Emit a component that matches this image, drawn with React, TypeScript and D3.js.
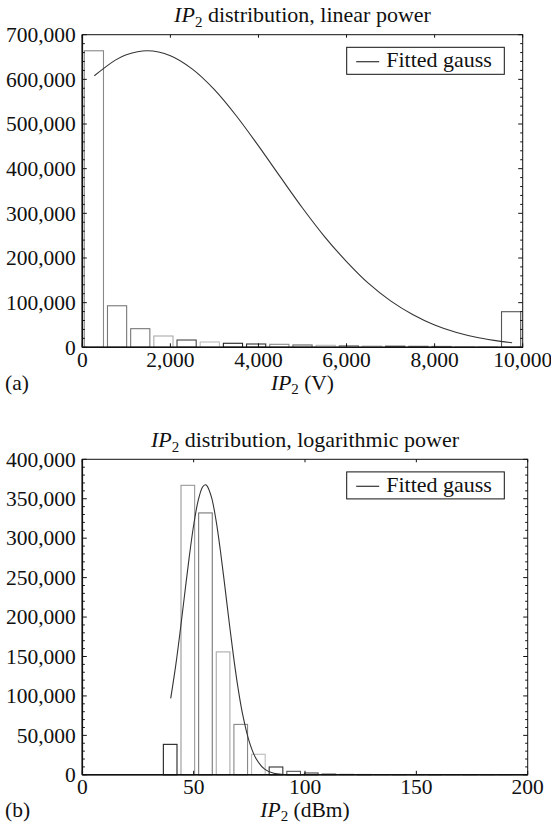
import React, { useEffect, useRef } from 'react';
import * as d3 from 'd3';

// (a) linear power: 19 equal bins over 0..10,000 V
const linBinStart = 0;
const linBinWidth = 10000 / 19;
const linCounts = [664000, 93000, 41700, 25300, 16300, 11900, 9000, 7400, 6700, 5200, 4500, 3600, 2900, 2600, 2300, 2000, 1800, 1600, 79700];
const linStrokes = ['#888', '#777', '#777', '#aaa', '#444', '#bbb', '#222', '#333', '#888', '#666', '#bbb', '#888', '#bbb', '#555', '#777', '#888', '#ccc', '#ccc', '#555'];
const linFitX = [273, 750, 1000, 1477, 2000, 2500, 3000, 3500, 4000, 4500, 5000, 5500, 6000, 6500, 7000, 7500, 8000, 8500, 9000, 9500, 9760];
const linFitY = [608000, 643000, 655000, 664000, 653000, 623000, 577000, 518000, 451000, 381000, 312000, 248000, 192000, 143000, 104000, 73500, 50000, 33100, 21300, 13300, 10300];
const linXTicks = [0, 2000, 4000, 6000, 8000, 10000];
const linYTicks = [0, 100000, 200000, 300000, 400000, 500000, 600000, 700000];

// (b) logarithmic power: 20 bins starting at 35.5 dBm
const logBinStart = 35.5;
const logBinWidth = 7.92;
const logCounts = [38600, 367000, 332000, 155800, 63900, 26000, 9900, 4400, 2300, 1200, 700, 400, 300, 200, 150, 100, 80, 60, 40, 30];
const logStrokes = ['#222', '#999', '#777', '#aaa', '#888', '#bbb', '#333', '#555', '#444', '#888', '#aaa', '#666', '#bbb', '#888', '#aaa', '#777', '#bbb', '#999', '#aaa', '#bbb'];
const logFitX = [39.7, 42, 44, 46, 48, 50, 52, 54, 55.2, 56, 58, 60, 62, 64, 66, 68, 70, 72, 75, 78, 82, 86, 90, 100];
const logFitY = [96800, 139700, 183200, 229800, 275700, 316400, 347400, 364800, 367700, 366400, 352000, 323500, 284400, 239200, 192400, 148000, 108800, 76600, 41700, 20600, 6800, 1900, 440, 0];
const logXTicks = [0, 50, 100, 150, 200];
const logYTicks = [0, 50000, 100000, 150000, 200000, 250000, 300000, 350000, 400000];

const FONT = '"Liberation Serif", "DejaVu Serif", serif';

const drawPanel = (svg, p) => {
    const x = d3.scaleLinear().domain(p.xDomain).range([p.left, p.right]);
    const y = d3.scaleLinear().domain(p.yDomain).range([p.bottom, p.top]);
    const g = svg.append('g');

    // Title with italic IP and subscript 2
    const title = g.append('text')
        .attr('x', (p.left + p.right) / 2)
        .attr('y', p.top - 12.5)
        .attr('text-anchor', 'middle')
        .style('font-family', FONT)
        .style('font-size', '22px')
        .style('fill', '#111');
    title.append('tspan').style('font-style', 'italic').text('IP');
    title.append('tspan').attr('dy', 5).style('font-size', '15px').text('2');
    title.append('tspan').attr('dy', -5).text(p.title);

    // Histogram bars
    const pad = 2;
    p.counts.forEach((c, i) => {
        const x0 = x(p.binStart + i * p.binWidth) + pad;
        const x1 = x(p.binStart + (i + 1) * p.binWidth) - pad;
        g.append('rect')
            .attr('x', x0)
            .attr('y', y(c))
            .attr('width', x1 - x0)
            .attr('height', y(0) - y(c))
            .style('fill', 'none')
            .style('stroke', p.strokes[i])
            .style('stroke-width', 1.1);
    });

    // Fitted gauss
    const fit = p.fitX.map((v, i) => [v, p.fitY[i]]);
    const line = d3.line()
        .x(d => x(d[0]))
        .y(d => y(d[1]))
        .curve(d3.curveCatmullRom);
    g.append('path')
        .attr('d', line(fit))
        .style('fill', 'none')
        .style('stroke', '#333')
        .style('stroke-width', 1.1);

    // Frame
    g.append('rect')
        .attr('x', p.left)
        .attr('y', p.top)
        .attr('width', p.right - p.left)
        .attr('height', p.bottom - p.top)
        .style('fill', 'none')
        .style('stroke', '#111')
        .style('stroke-width', 1);
    g.append('line')
        .attr('x1', p.left).attr('x2', p.left)
        .attr('y1', p.top).attr('y2', p.bottom)
        .style('stroke', '#111').style('stroke-width', 1.6);
    g.append('line')
        .attr('x1', p.left).attr('x2', p.right)
        .attr('y1', p.bottom).attr('y2', p.bottom)
        .style('stroke', '#111').style('stroke-width', 1.6);

    // Minor y ticks on left and right
    d3.range(p.yDomain[0], p.yDomain[1] + 1, p.yMinor).forEach(v => {
        const major = p.yTicks.includes(v);
        const len = major ? 4.5 : 2.5;
        g.append('line')
            .attr('x1', p.left).attr('x2', p.left + len)
            .attr('y1', y(v)).attr('y2', y(v))
            .style('stroke', '#111').style('stroke-width', 1);
        g.append('line')
            .attr('x1', p.right).attr('x2', p.right - len)
            .attr('y1', y(v)).attr('y2', y(v))
            .style('stroke', '#111').style('stroke-width', 1);
    });

    // Y tick labels
    p.yTicks.forEach(v => {
        g.append('text')
            .attr('x', p.left - 6.5)
            .attr('y', y(v))
            .attr('dy', '0.34em')
            .attr('text-anchor', 'end')
            .text(d3.format(',')(v))
            .style('font-family', FONT)
            .style('font-size', '21.5px')
            .style('fill', '#111');
    });

    // X ticks (bottom and top) and labels
    p.xTicks.forEach(v => {
        g.append('line')
            .attr('x1', x(v)).attr('x2', x(v))
            .attr('y1', p.bottom).attr('y2', p.bottom - 4)
            .style('stroke', '#111').style('stroke-width', 1);
        g.append('line')
            .attr('x1', x(v)).attr('x2', x(v))
            .attr('y1', p.top).attr('y2', p.top + 3)
            .style('stroke', '#111').style('stroke-width', 1);
        g.append('text')
            .attr('x', x(v))
            .attr('y', p.bottom + 19.5)
            .attr('text-anchor', 'middle')
            .text(d3.format(',')(v))
            .style('font-family', FONT)
            .style('font-size', '21.5px')
            .style('fill', '#111');
    });

    // X axis label
    const xl = g.append('text')
        .attr('x', (p.left + p.right) / 2)
        .attr('y', p.bottom + 42.5)
        .attr('text-anchor', 'middle')
        .style('font-family', FONT)
        .style('font-size', '21.5px')
        .style('fill', '#111');
    xl.append('tspan').style('font-style', 'italic').text('IP');
    xl.append('tspan').attr('dy', 4).style('font-size', '15px').text('2');
    xl.append('tspan').attr('dy', -4).text(p.xLabel);

    // Panel letter
    g.append('text')
        .attr('x', 5)
        .attr('y', p.bottom + 42.5)
        .text(p.letter)
        .style('font-family', FONT)
        .style('font-size', '21.5px')
        .style('fill', '#111');

    // Legend
    const lx = 346.7;
    const ly = p.top + 12.6;
    g.append('rect')
        .attr('x', lx).attr('y', ly)
        .attr('width', 157.6).attr('height', 27)
        .style('fill', '#fff')
        .style('stroke', '#111')
        .style('stroke-width', 1);
    g.append('line')
        .attr('x1', lx + 9.5).attr('x2', lx + 32.5)
        .attr('y1', ly + 14.4).attr('y2', ly + 14.4)
        .style('stroke', '#333').style('stroke-width', 1.2);
    g.append('text')
        .attr('x', lx + 39.5)
        .attr('y', ly + 19.7)
        .text('Fitted gauss')
        .style('font-family', FONT)
        .style('font-size', '22px')
        .style('fill', '#111');
};

const App = () => {
    const svgRef = useRef(null);

    useEffect(() => {
        const svg = d3.select(svgRef.current);
        svg.selectAll('*').remove();

        drawPanel(svg, {
            title: ' distribution, linear power',
            xLabel: ' (V)',
            letter: '(a)',
            left: 82.3, right: 522.7, top: 34.7, bottom: 347.3,
            xDomain: [0, 10000], yDomain: [0, 700000],
            xTicks: linXTicks, yTicks: linYTicks, yMinor: 20000,
            binStart: linBinStart, binWidth: linBinWidth,
            counts: linCounts, strokes: linStrokes,
            fitX: linFitX, fitY: linFitY
        });

        drawPanel(svg, {
            title: ' distribution, logarithmic power',
            xLabel: ' (dBm)',
            letter: '(b)',
            left: 82.3, right: 527.7, top: 459.3, bottom: 774.8,
            xDomain: [0, 200], yDomain: [0, 400000],
            xTicks: logXTicks, yTicks: logYTicks, yMinor: 10000,
            binStart: logBinStart, binWidth: logBinWidth,
            counts: logCounts, strokes: logStrokes,
            fitX: logFitX, fitY: logFitY
        });
    }, []);

    return (
        <svg
            ref={svgRef}
            width={551}
            height={823}
            style={{ position: 'absolute', left: 0, top: 0, background: '#fff' }}
        ></svg>
    );
};

export default App;
